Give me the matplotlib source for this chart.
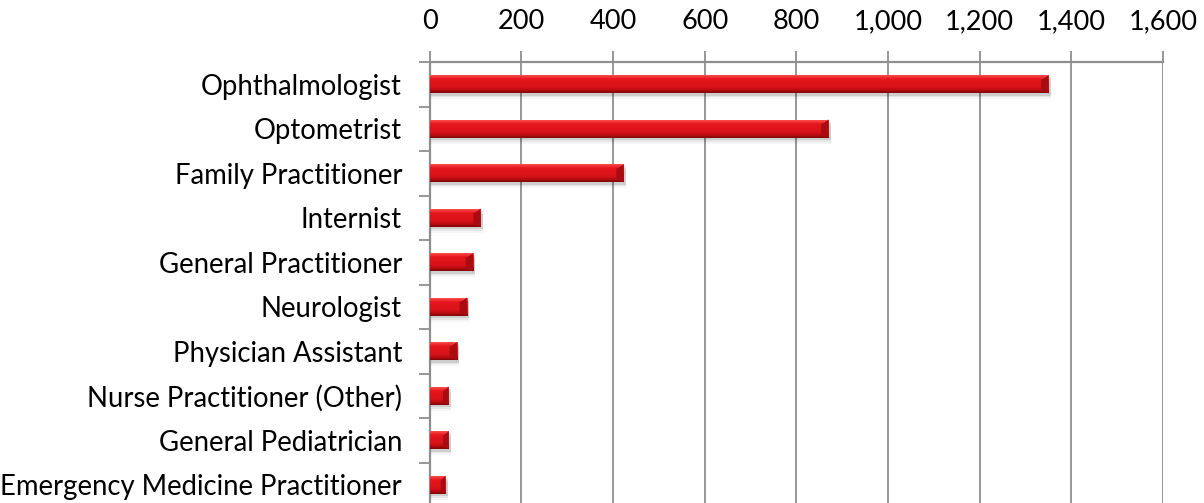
import matplotlib.pyplot as plt
import numpy as np
from matplotlib.colors import LinearSegmentedColormap
from matplotlib.ticker import FuncFormatter
from matplotlib.patches import Polygon

specialties = ['Ophthalmologist', 'Optometrist', 'Family Practitioner', 'Internist',
               'General Practitioner', 'Neurologist', 'Physician Assistant',
               'Nurse Practitioner (Other)', 'General Pediatrician',
               'Emergency Medicine Practitioner']
counts = [1350, 870, 423, 111, 94, 81, 59, 41, 41, 34]
xticks = [0, 200, 400, 600, 800, 1000, 1200, 1400, 1600]

plt.rcParams['font.family'] = ['Lato', 'DejaVu Sans']

fig = plt.figure(figsize=(12.04, 5.03), dpi=100)
ax = fig.add_axes([0.357, -0.008, 0.609, 0.8847])

grid_col = '#8f8f8f'
y = np.arange(len(specialties))
h = 0.41

# shaded bar body: light top edge, red face, dark bottom edge
shade = LinearSegmentedColormap.from_list(
    'bevel', [(0.0, '#ff5a5a'), (0.12, '#f43b3b'), (0.25, '#e6161d'),
              (0.7, '#d81219'), (0.85, '#b80d12'), (1.0, '#7e0708')])
grad = np.linspace(0, 1, 64).reshape(-1, 1)

bars = ax.barh(y, counts, height=h, color='#d41218', zorder=3)
for rect, v in zip(bars, counts):
    x0, y0 = rect.get_x(), rect.get_y()
    w, hh = rect.get_width(), rect.get_height()
    # soft shadow under the bar
    for k, a in [(0.05, 0.10), (0.09, 0.06), (0.13, 0.04)]:
        ax.add_patch(plt.Rectangle((x0 + 2, y0 + k), w + 3, hh, color='#000000',
                                   alpha=a, lw=0, zorder=2))
    im = ax.imshow(grad, cmap=shade, aspect='auto', zorder=3.5,
                   extent=(x0, x0 + w, y0 + hh, y0), interpolation='bicubic')
    im.set_clip_path(rect)
    # bevelled right end
    b = min(16, w * 0.3)
    ax.add_patch(Polygon([(x0 + w - b, y0 + hh * 0.25), (x0 + w, y0),
                          (x0 + w, y0 + hh), (x0 + w - b, y0 + hh * 0.8)],
                         closed=True, color='#a80c10', lw=0, zorder=4))
    ax.add_patch(Polygon([(x0 + w - b, y0 + hh * 0.25), (x0 + w, y0),
                          (x0 + w - b * 0.2, y0)],
                         closed=True, color='#ff6a6a', alpha=0.6, lw=0, zorder=4))

ax.set_xlim(0, 1600)
ax.set_ylim(len(specialties) - 0.5, -0.5)
ax.set_xticks(xticks)
ax.xaxis.set_major_formatter(FuncFormatter(lambda v, p: f'{int(v):,}'))
ax.xaxis.tick_top()
ax.set_yticks(y)
ax.set_yticklabels(specialties)
ax.set_yticks(np.arange(len(specialties) + 1) - 0.5, minor=True)

ax.tick_params(axis='x', which='major', length=8, width=1.3, color=grid_col,
               labelsize=19.5, pad=12)
ax.tick_params(axis='y', which='major', length=0, labelsize=19.8, pad=20)
ax.tick_params(axis='y', which='minor', length=8, width=1.3, color=grid_col)

ax.grid(axis='x', color=grid_col, lw=1.3, zorder=0)
ax.set_axisbelow(True)
for s in ['right', 'bottom']:
    ax.spines[s].set_visible(False)
for s in ['top', 'left']:
    ax.spines[s].set_color(grid_col)
    ax.spines[s].set_linewidth(1.6)

fig.savefig('out.png', dpi=100)
